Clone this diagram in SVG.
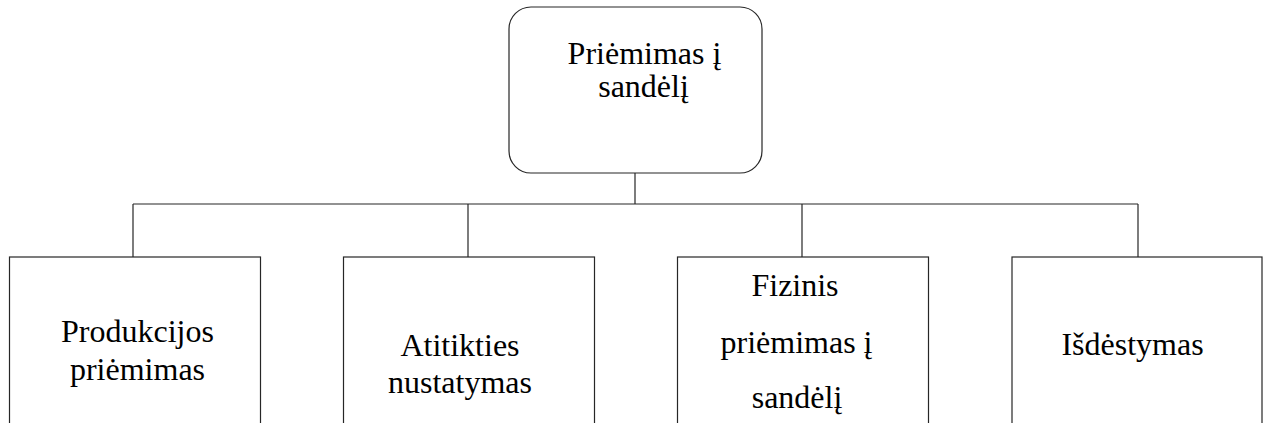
<svg xmlns="http://www.w3.org/2000/svg" width="1266" height="423" viewBox="0 0 1266 423">
  <style>
    .box { fill: #ffffff; stroke: #262626; stroke-width: 1.2; }
    .wire { fill: none; stroke: #262626; stroke-width: 1.2; }
    .lbl { font-family: "Liberation Serif", "Times New Roman", serif; font-size: 32px; fill: #000000; text-anchor: middle; }
  </style>
  <rect width="1266" height="423" fill="#ffffff"/>

  <!-- connectors -->
  <g id="connectors">
    <line class="wire" x1="635" y1="173" x2="635" y2="204"/>
    <line class="wire" x1="133" y1="204" x2="1138" y2="204"/>
    <line class="wire" x1="133" y1="204" x2="133" y2="257"/>
    <line class="wire" x1="468" y1="204" x2="468" y2="257"/>
    <line class="wire" x1="802" y1="204" x2="802" y2="257"/>
    <line class="wire" x1="1138" y1="204" x2="1138" y2="257"/>
  </g>

  <!-- root node -->
  <g id="root">
    <rect class="box" x="509" y="7" width="253" height="166" rx="22" ry="22"/>
    <text class="lbl" x="644.5" y="64">Priėmimas į</text>
    <text class="lbl" x="643.5" y="97">sandėlį</text>
  </g>

  <!-- child nodes -->
  <g id="produkcijos-priemimas">
    <rect class="box" x="9.5" y="257" width="251" height="180"/>
    <text class="lbl" x="137.5" y="342">Produkcijos</text>
    <text class="lbl" x="137.5" y="380">priėmimas</text>
  </g>

  <g id="atitikties-nustatymas">
    <rect class="box" x="343.5" y="257" width="251" height="180"/>
    <text class="lbl" x="460" y="356">Atitikties</text>
    <text class="lbl" x="460" y="393">nustatymas</text>
  </g>

  <g id="fizinis-priemimas">
    <rect class="box" x="677.5" y="257" width="251" height="180"/>
    <text class="lbl" x="795" y="296">Fizinis</text>
    <text class="lbl" x="796.5" y="353">priėmimas į</text>
    <text class="lbl" x="797" y="408">sandėlį</text>
  </g>

  <g id="isdestymas">
    <rect class="box" x="1012" y="257" width="250" height="180"/>
    <text class="lbl" x="1132.5" y="355">Išdėstymas</text>
  </g>
</svg>
